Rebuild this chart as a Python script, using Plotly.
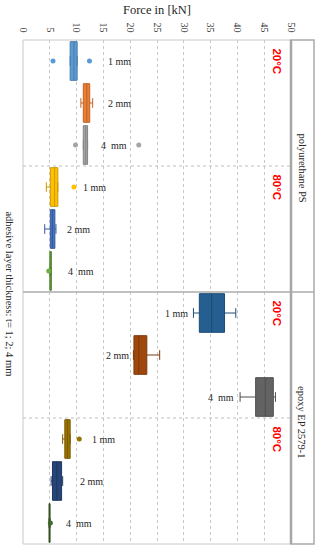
import plotly.graph_objects as go

# ---------------- data ----------------
categories = ["PS 20°C 1 mm", "PS 20°C 2 mm", "PS 20°C 4 mm",
              "PS 80°C 1 mm", "PS 80°C 2 mm", "PS 80°C 4 mm",
              "EP 20°C 1 mm", "EP 20°C 2 mm", "EP 20°C 4 mm",
              "EP 80°C 1 mm", "EP 80°C 2 mm", "EP 80°C 4 mm"]
box_labels = ["1 mm", "2 mm", "4\u00a0 mm"] * 4
q1 =        [8.8, 11.25, 11.25, 5.1, 5.1, 5.0, 32.9, 20.7, 43.4, 7.8, 5.5, 4.85]
median =    [9.5, 11.9, 11.7, 5.9, 5.5, 5.15, 35.2, 21.6, 45.2, 8.3, 6.3, 4.95]
q3 =        [10.1, 12.45, 12.05, 6.5, 5.95, 5.3, 37.6, 23.1, 46.7, 8.8, 7.2, 5.05]
lowerfence = [8.8, 10.8, 11.25, 4.35, 4.05, 5.0, 31.8, 20.6, 40.5, 7.4, 5.25, 4.85]
upperfence = [10.1, 13.0, 12.05, 6.5, 6.15, 5.3, 39.7, 25.5, 47.1, 8.8, 7.4, 5.05]
outliers = [[5.6, 12.4], [], [9.8, 21.6], [9.5], [], [4.8],
            [], [], [], [10.5], [], [5.1]]
temperature_labels = ["20°C", "80°C", "20°C", "80°C"]
temperature_rows = [0, 3, 6, 9]
material_labels = ["polyurethane PS", "epoxy EP 2579-1"]
x_ticks = [0, 5, 10, 15, 20, 25, 30, 35, 40, 45, 50]

# ---------------- style ----------------
fills = ['#5B9BD5', '#ED7D31', '#A5A5A5', '#FFC000', '#4472C4', '#70AD47',
         '#255E91', '#9E480E', '#636363', '#997300', '#264478', '#43682B']
label_x = [15.5, 15.5, 14.1, 10.9, 7.8, 7.95, 26.1, 15.2, 34.2, 12.55, 10.2, 7.6]


def darken(hx, f=0.8):
    r, g, b = int(hx[1:3], 16), int(hx[3:5], 16), int(hx[5:7], 16)
    return "rgb(%d,%d,%d)" % (r * f, g * f, b * f)


SERIF = "Liberation Serif"
fig = go.Figure()

for i, c in enumerate(categories):
    fig.add_trace(go.Box(
        y=[c], q1=[q1[i]], median=[median[i]], q3=[q3[i]],
        lowerfence=[lowerfence[i]], upperfence=[upperfence[i]],
        orientation="h", width=0.92, whiskerwidth=0.25,
        fillcolor=fills[i], line=dict(color=darken(fills[i]), width=1),
        boxpoints=False, showlegend=False, hoverinfo="skip"))
    if outliers[i]:
        fig.add_trace(go.Scatter(
            x=outliers[i], y=[c] * len(outliers[i]), mode="markers",
            marker=dict(color=fills[i], size=5), showlegend=False,
            hoverinfo="skip"))

annotations = []
for i, c in enumerate(categories):
    annotations.append(dict(x=label_x[i], y=c, xref="x", yref="y",
                            text=box_labels[i], showarrow=False,
                            xanchor="left", yanchor="middle",
                            font=dict(family=SERIF, size=10, color="#262626")))
for t, r in zip(temperature_labels, temperature_rows):
    annotations.append(dict(x=47.3, y=categories[r], xref="x", yref="y",
                            text="<b>%s</b>" % t, showarrow=False,
                            textangle=90, xanchor="center", yanchor="middle",
                            font=dict(family="Liberation Sans", size=11.5,
                                      color="#FF0000")))
annotations.append(dict(x=0.5, y=1.0595, xref="paper", yref="paper",
                        text="Force in [kN]", showarrow=False,
                        xanchor="center", yanchor="middle",
                        font=dict(family=SERIF, size=12.5, color="#262626")))
annotations.append(dict(x=-0.052, y=0.497, xref="paper", yref="paper",
                        text="adhesive layer thickness: t= 1; 2; 4 mm",
                        showarrow=False, textangle=90,
                        xanchor="center", yanchor="middle",
                        font=dict(family=SERIF, size=10.5, color="#262626")))
for lab, yy in zip(material_labels, [0.745, 0.24]):
    annotations.append(dict(x=1.041, y=yy, xref="paper", yref="paper",
                            text=lab, showarrow=False, textangle=90,
                            xanchor="center", yanchor="middle",
                            font=dict(family=SERIF, size=10.5, color="#262626")))

strip_right = (314 - 23) / 268
shapes = [
    dict(type="rect", xref="paper", yref="paper", x0=0, x1=1, y0=0, y1=1,
         line=dict(color="#C8C8C8", width=1), layer="below"),
    dict(type="rect", xref="paper", yref="paper", x0=1, x1=strip_right,
         y0=0, y1=1, line=dict(color="#ABABAB", width=1.5)),
    dict(type="line", xref="paper", yref="paper", x0=1, x1=1, y0=0, y1=1,
         line=dict(color="#A6A6A6", width=2.5)),
    dict(type="line", xref="paper", yref="y", x0=0, x1=strip_right,
         y0=5.5, y1=5.5, line=dict(color="#ABABAB", width=1.5)),
    dict(type="line", xref="paper", yref="y", x0=0, x1=1, y0=2.5, y1=2.5,
         line=dict(color="#BFBFBF", width=1, dash="dot")),
    dict(type="line", xref="paper", yref="y", x0=0, x1=1, y0=8.5, y1=8.5,
         line=dict(color="#BFBFBF", width=1, dash="dot")),
]

fig.update_layout(
    width=320, height=550,
    margin=dict(l=23, r=29, t=40, b=6),
    paper_bgcolor="white", plot_bgcolor="white",
    boxmode="overlay",
    showlegend=False,
    annotations=annotations,
    shapes=shapes,
    xaxis=dict(side="top", range=[0, 50], tickvals=x_ticks,
               ticktext=[str(v) for v in x_ticks], tickangle=90,
               showgrid=True, gridcolor="#C8C8C8", griddash="dot",
               gridwidth=1, zeroline=False, showline=False, ticks="",
               ticklabelstandoff=5,
               tickfont=dict(family=SERIF, size=10, color="#404040")),
    yaxis=dict(type="category", categoryorder="array",
               categoryarray=categories, range=[11.5, -0.5],
               showticklabels=False, showgrid=False, zeroline=False,
               showline=False, ticks=""),
)

# remove the browser's default 8px body margin so the figure fills the window
fig.write_html("out.html",
               config={"displayModeBar": False},
               post_script="document.body.style.margin='0px';"
                           "document.body.style.overflow='hidden';")
